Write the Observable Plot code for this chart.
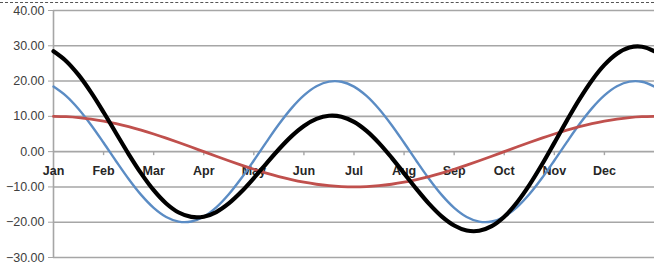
<!DOCTYPE html>
<html>
<head>
<meta charset="utf-8">
<script src="https://cdn.jsdelivr.net/npm/d3@7"></script>
<script src="https://cdn.jsdelivr.net/npm/@observablehq/plot@0.6"></script>
<style>
  body { margin: 0; background: #fff; }
  #wrap { position: relative; width: 654px; height: 265px; overflow: hidden; }
  #dash { position: absolute; left: 0; top: 2px; width: 654px; height: 0; border-top: 1px dashed #555; }
  svg { font-family: "Liberation Sans", Arial, sans-serif; }
</style>
</head>
<body>
<div id="wrap"><div id="dash"></div></div>
<script>
const months = ["Jan","Feb","Mar","Apr","May","Jun","Jul","Aug","Sep","Oct","Nov","Dec"];
const yTicks = [-30, -20, -10, 0, 10, 20, 30, 40];
// x positions in months (0 = start of Jan), quarter-month steps
const tValues = [0,0.25,0.5,0.75,1,1.25,1.5,1.75,2,2.25,2.5,2.75,3,3.25,3.5,3.75,4,4.25,4.5,4.75,5,5.25,5.5,5.75,6,
  6.25,6.5,6.75,7,7.25,7.5,7.75,8,8.25,8.5,8.75,9,9.25,9.5,9.75,10,10.25,10.5,10.75,11,11.25,11.5,11.75,12];
const redSeries = [10,9.91,9.66,9.24,8.66,7.93,7.07,6.09,5.00,3.83,2.59,1.31,0,-1.31,-2.59,-3.83,-5.00,-6.09,-7.07,-7.93,-8.66,-9.24,-9.66,-9.91,-10,
  -9.91,-9.66,-9.24,-8.66,-7.93,-7.07,-6.09,-5.00,-3.83,-2.59,-1.31,0,1.31,2.59,3.83,5.00,6.09,7.07,7.93,8.66,9.24,9.66,9.91,10];
const blueSeries = [18.44,15.80,12.09,7.56,2.51,-2.71,-7.75,-12.26,-15.93,-18.52,-19.84,-19.81,-18.44,-15.80,-12.09,-7.56,-2.51,2.71,7.75,12.26,15.93,18.52,19.84,19.81,18.44,
  15.80,12.09,7.56,2.51,-2.71,-7.75,-12.26,-15.93,-18.52,-19.84,-19.81,-18.44,-15.80,-12.09,-7.56,-2.51,2.71,7.75,12.26,15.93,18.52,19.84,19.81,18.44];
const blackSeries = [28.44,25.71,21.75,16.80,11.17,5.22,-0.68,-6.17,-10.93,-14.69,-17.25,-18.50,-18.44,-17.11,-14.68,-11.39,-7.51,-3.38,0.68,4.33,7.27,9.28,10.18,9.90,8.44,
  5.89,2.43,-1.68,-6.15,-10.64,-14.82,-18.35,-20.93,-22.35,-22.43,-21.12,-18.44,-14.49,-9.50,-3.73,2.49,8.80,14.82,20.19,24.59,27.76,29.50,29.72,28.44];

const toRows = (vals) => tValues.map((t, i) => ({t, v: vals[i]}));
const monthRows = months.map((m, i) => ({m, i}));

const chart = Plot.plot({
  width: 654,
  height: 265,
  marginLeft: 53,
  marginRight: 0,
  marginTop: 10,
  marginBottom: 8,
  x: {domain: [0, 12], axis: null},
  y: {domain: [-30, 40], axis: null},
  marks: [
    Plot.ruleY(yTicks, {stroke: "#a6a6a6", strokeWidth: 1.6}),
    Plot.ruleX([0], {y1: -30, y2: 40, stroke: "#a6a6a6", strokeWidth: 1.6}),
    Plot.axisY(yTicks, {
      label: null,
      tickFormat: d3.format(".2f"),
      tickSize: 5,
      tickPadding: 4,
      stroke: "#a6a6a6",
      fill: "#404040",
      fontSize: 12.5
    }),
    Plot.ruleX(monthRows.slice(1), {x: "i", y1: 0, y2: 0, insetBottom: -4, stroke: "#a6a6a6", strokeWidth: 1.4}),
    Plot.text(monthRows, {x: "i", y: 0, text: "m", dy: 19, fontWeight: "bold", fontSize: 12.5, fill: "#262626"}),
    Plot.line(toRows(blueSeries), {x: "t", y: "v", curve: "catmull-rom", stroke: "#5b8cc4", strokeWidth: 2.4}),
    Plot.line(toRows(redSeries), {x: "t", y: "v", curve: "catmull-rom", stroke: "#c0504d", strokeWidth: 2.8}),
    Plot.line(toRows(blackSeries), {x: "t", y: "v", curve: "catmull-rom", stroke: "#000000", strokeWidth: 4.2})
  ]
});
document.getElementById("wrap").appendChild(chart);
</script>
</body>
</html>
